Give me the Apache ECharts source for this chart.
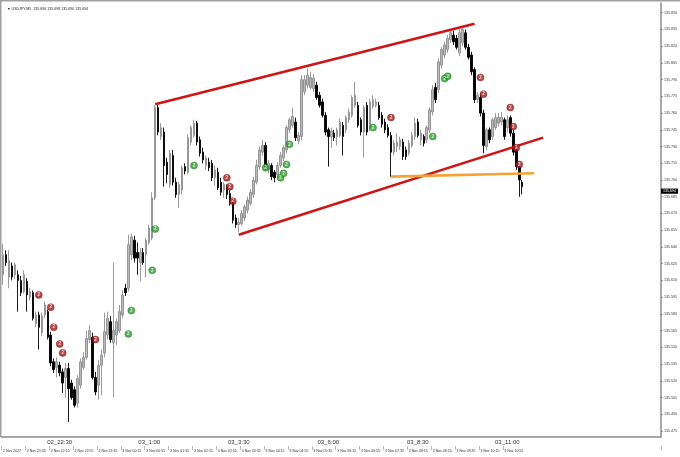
<!DOCTYPE html>
<html>
<head>
<meta charset="utf-8">
<script src="https://cdn.jsdelivr.net/npm/echarts@6/dist/echarts.min.js"></script>
<style>html,body{margin:0;padding:0;background:#fff}#c{width:680px;height:457px}</style>
</head>
<body>
<div id="c"></div>
<script>
// ---- data (USDJPY, M5) ----
const opens = [
135.615,135.633,135.613,135.623,135.615,135.615,135.610,135.600,135.609,135.595,
135.599,135.571,135.579,135.563,135.579,135.582,135.561,135.537,135.532,135.534,
135.528,135.523,135.531,135.518,135.512,135.500,135.516,135.532,135.541,135.557,
135.559,135.523,135.516,135.534,135.545,135.561,135.573,135.554,135.561,135.565,
135.579,135.603,135.603,135.633,135.646,135.635,135.626,135.635,135.633,135.644,
135.648,135.684,135.765,135.739,135.743,135.716,135.696,135.722,135.698,135.687,
135.691,135.712,135.707,135.734,135.740,135.751,135.736,135.725,135.713,135.716,
135.715,135.702,135.707,135.698,135.691,135.694,135.688,135.680,135.666,135.660,
135.661,135.666,135.673,135.679,135.687,135.698,135.712,135.725,135.731,135.709,
135.713,135.707,135.705,135.713,135.720,135.727,135.745,135.749,135.752,135.735,
135.739,135.779,135.785,135.783,135.782,135.785,135.776,135.770,135.758,135.745,
135.739,135.742,135.739,135.740,135.749,135.745,135.754,135.758,135.767,135.767,
135.754,135.743,135.767,135.747,135.766,135.767,135.767,135.758,135.752,135.747,
135.740,135.725,135.730,135.730,135.734,135.727,135.724,135.731,135.739,135.752,
135.736,135.739,135.736,135.745,135.761,135.783,135.781,135.803,135.812,135.817,
135.826,135.830,135.827,135.814,135.823,135.832,135.819,135.812,135.799,135.772,
135.774,135.760,135.730,135.745,135.739,135.747,135.751,135.752,135.754,135.747,
135.756,135.742,135.727,135.712,135.698];
const closes = [
135.633,135.626,135.628,135.613,135.624,135.610,135.599,135.615,135.597,135.600,
135.576,135.579,135.568,135.578,135.588,135.559,135.536,135.530,135.537,135.527,
135.518,135.531,135.513,135.505,135.498,135.522,135.537,135.541,135.558,135.565,
135.523,135.510,135.534,135.543,135.564,135.576,135.557,135.565,135.573,135.582,
135.597,135.599,135.642,135.649,135.630,135.630,135.635,135.626,135.646,135.657,
135.684,135.765,135.743,135.747,135.713,135.705,135.724,135.698,135.687,135.696,
135.711,135.708,135.738,135.747,135.751,135.734,135.724,135.718,135.720,135.711,
135.702,135.709,135.693,135.689,135.696,135.687,135.679,135.664,135.660,135.662,
135.670,135.676,135.682,135.689,135.700,135.713,135.727,135.731,135.712,135.715,
135.703,135.702,135.713,135.722,135.729,135.747,135.754,135.757,135.738,135.740,
135.790,135.790,135.794,135.792,135.791,135.774,135.767,135.758,135.743,135.739,
135.744,135.738,135.745,135.752,135.739,135.756,135.761,135.774,135.776,135.749,
135.743,135.765,135.743,135.770,135.772,135.770,135.756,135.750,135.745,135.740,
135.725,135.733,135.734,135.736,135.721,135.721,135.733,135.740,135.751,135.740,
135.742,135.733,135.747,135.763,135.781,135.772,135.806,135.817,135.821,135.827,
135.832,135.824,135.819,135.832,135.835,135.819,135.810,135.797,135.772,135.776,
135.760,135.731,135.745,135.736,135.754,135.756,135.756,135.756,135.739,135.754,
135.742,135.725,135.712,135.700,135.694];
const lows = [
135.606,135.623,135.603,135.610,135.611,135.582,135.596,135.598,135.582,135.592,
135.574,135.568,135.548,135.560,135.576,135.557,135.533,135.527,135.523,135.524,
135.509,135.505,135.483,135.503,135.496,135.496,135.513,135.530,135.539,135.554,
135.521,135.507,135.503,135.507,135.541,135.557,135.554,135.505,135.552,135.563,
135.576,135.596,135.600,135.628,135.626,135.615,135.609,135.624,135.613,135.642,
135.646,135.682,135.740,135.736,135.694,135.697,135.693,135.695,135.684,135.675,
135.687,135.705,135.705,135.731,135.738,135.731,135.721,135.715,135.709,135.708,
135.699,135.695,135.691,135.686,135.684,135.683,135.677,135.661,135.657,135.653,
135.659,135.663,135.670,135.677,135.684,135.696,135.709,135.722,135.709,135.706,
135.700,135.698,135.702,135.711,135.717,135.724,135.742,135.747,135.735,135.732,
135.736,135.776,135.782,135.781,135.779,135.772,135.765,135.756,135.740,135.712,
135.729,135.735,135.731,135.738,135.722,135.742,135.751,135.756,135.765,135.747,
135.740,135.720,135.740,135.744,135.764,135.765,135.754,135.747,135.742,135.738,
135.703,135.722,135.725,135.727,135.718,135.718,135.722,135.729,135.736,135.738,
135.731,135.730,135.733,135.742,135.758,135.769,135.778,135.800,135.809,135.814,
135.823,135.821,135.817,135.811,135.820,135.817,135.808,135.794,135.769,135.769,
135.757,135.724,135.727,135.733,135.736,135.745,135.748,135.749,135.736,135.743,
135.739,135.722,135.709,135.685,135.687];
const highs = [
135.643,135.637,135.637,135.626,135.626,135.619,135.614,135.619,135.612,135.603,
135.601,135.582,135.582,135.581,135.591,135.584,135.564,135.540,135.541,135.537,
135.531,135.536,135.536,135.521,135.515,135.525,135.540,135.546,135.565,135.570,
135.563,135.528,135.539,135.548,135.581,135.582,135.578,135.626,135.576,135.588,
135.601,135.607,135.651,135.652,135.650,135.644,135.639,135.639,135.648,135.660,
135.689,135.767,135.768,135.751,135.747,135.720,135.727,135.727,135.702,135.698,
135.713,135.715,135.741,135.749,135.754,135.753,135.739,135.729,135.722,135.720,
135.718,135.713,135.711,135.702,135.698,135.696,135.691,135.684,135.669,135.666,
135.673,135.678,135.685,135.692,135.703,135.718,135.730,135.736,135.734,135.718,
135.715,135.709,135.716,135.725,135.731,135.749,135.756,135.765,135.756,135.743,
135.794,135.794,135.800,135.797,135.795,135.788,135.779,135.773,135.761,135.747,
135.747,135.745,135.747,135.755,135.752,135.758,135.764,135.776,135.788,135.770,
135.756,135.767,135.770,135.773,135.776,135.773,135.770,135.761,135.755,135.750,
135.743,135.736,135.742,135.739,135.737,135.730,135.736,135.743,135.756,135.755,
135.745,135.741,135.749,135.765,135.785,135.787,135.809,135.819,135.824,135.830,
135.835,135.834,135.830,135.835,135.837,135.835,135.822,135.815,135.801,135.779,
135.777,135.763,135.747,135.747,135.756,135.760,135.760,135.761,135.756,135.758,
135.758,135.745,135.730,135.714,135.700];

// signal markers: [bar index, price]
const redSignals = [[12,135.597],[16,135.586],[17,135.568],[19,135.553],[20,135.545],[31,135.557],
  [75,135.702],[76,135.694],[77,135.681],[130,135.756],[160,135.792],[161,135.777],
  [170,135.765],[171,135.748],[172,135.729],[173,135.714]];
const greenSignals = [[42,135.562],[43,135.583],[50,135.619],[51,135.656],[64,135.713],[88,135.711],
  [93,135.702],[94,135.706],[95,135.714],[96,135.732],[124,135.747],[144,135.739],[148,135.791],[149,135.793]];

// drawn trend lines: [bar index, price]
const upperChannel = [[51,135.768],[158,135.840]];
const lowerChannel = [[79,135.651],[181,135.738]];
const orangeLevel  = [[130,135.703],[178,135.706]];

// axis text
const xTickLabels = ['02_22:30','03_1:00','03_3:30','03_6:00','03_8:30','03_11:00'];
const yTicks = [135.475,135.490,135.505,135.520,135.535,135.550,135.565,135.580,135.595,135.610,
  135.625,135.640,135.655,135.670,135.685,135.700,135.715,135.730,135.745,135.760,
  135.775,135.790,135.805,135.820,135.835,135.850];
const yMin = 135.4696, yMax = 135.8587;
const titleText = '\u25BC USDJPY,M5  135.696 135.698 135.690 135.694';

// ---- build ----
const slotCount = 221; // bars that fit the window (right side left empty like MT4)
const startMin = 20 * 60 + 55; // first bar: 2 Nov 20:55
const categories = [], tinyNames = [];
for (let k = 0; k < slotCount; k++) {
  const t = startMin + 5 * k;
  const day = 2 + Math.floor(t / 1440);
  const m = t % 1440, h = Math.floor(m / 60), mm = m % 60;
  categories.push(String(day).padStart(2, '0') + '_' + h + ':' + String(mm).padStart(2, '0'));
  tinyNames.push(day + ' Nov ' + String(h).padStart(2, '0') + ':' + String(mm).padStart(2, '0'));
}
tinyNames[0] = '2 Nov 2022';
const nBars = opens.length;
const candleData = opens.map((o, i) => [o, closes[i], lows[i], highs[i]]);
const lastClose = closes[nBars - 1];
const FONT = 'Liberation Sans, Arial, sans-serif';

const chart = echarts.init(document.getElementById('c'), null, {renderer: 'canvas', width: 680, height: 457});
const signalSeries = (data, fill, stroke) => ({
  type: 'scatter', data: data, symbol: 'circle', symbolSize: 7, z: 6, silent: true,
  itemStyle: {color: fill, borderColor: stroke, borderWidth: 0.5},
  label: {show: true, formatter: '2', position: 'inside', color: '#ffffff', fontSize: 4.5, fontWeight: 'bold', fontFamily: FONT}
});
const lineSeries = (data, color) => ({
  type: 'line', data: data, symbol: 'none', showSymbol: false, silent: true, z: 5,
  lineStyle: {color: color, width: 2.6}
});

chart.setOption({
  animation: false,
  backgroundColor: '#ffffff',
  title: {text: titleText, left: 2, top: 2, textStyle: {fontSize: 3.6, fontWeight: 'normal', color: '#222', fontFamily: FONT}},
  grid: {left: 0, right: 17, top: 3, bottom: 20, containLabel: false},
  xAxis: [{
    type: 'category', data: categories, boundaryGap: true,
    axisLine: {show: true, lineStyle: {color: '#8c8c8c', width: 1.5}},
    axisTick: {show: false}, splitLine: {show: false},
    axisLabel: {interval: (idx, val) => xTickLabels.indexOf(val) >= 0, fontSize: 6, color: '#333', margin: 2, fontFamily: FONT}
  }, {
    type: 'category', data: categories, boundaryGap: true, position: 'bottom', offset: 9,
    axisLine: {show: false},
    axisTick: {show: true, interval: (idx) => idx % 8 === 0 && idx < nBars, length: 4, lineStyle: {color: '#777', width: 0.5}},
    splitLine: {show: false},
    axisLabel: {interval: (idx) => idx % 8 === 0 && idx < nBars, formatter: (v, idx) => tinyNames[idx],
      fontSize: 3.5, color: '#333', margin: 3, align: 'left', fontFamily: FONT}
  }],
  yAxis: {
    type: 'value', position: 'right', min: yMin, max: yMax, scale: true,
    axisLine: {show: true, lineStyle: {color: '#8c8c8c', width: 1.5}},
    axisTick: {show: true, length: 2, customValues: yTicks, lineStyle: {color: '#555', width: 0.5}},
    axisLabel: {customValues: yTicks, formatter: v => v.toFixed(3), fontSize: 3.6, color: '#333', margin: 3, fontFamily: FONT},
    splitLine: {show: false}
  },
  graphic: [
    {type: 'line', shape: {x1: 0, y1: 0.75, x2: 680, y2: 0.75}, style: {stroke: '#a0a0a0', lineWidth: 1.5}, silent: true},
    {type: 'line', shape: {x1: 0.75, y1: 0, x2: 0.75, y2: 437}, style: {stroke: '#a0a0a0', lineWidth: 1.5}, silent: true}
  ],
  series: [
    {
      type: 'candlestick', data: candleData, barWidth: 2, z: 3,
      itemStyle: {color: '#b9b9b9', color0: '#000000', borderColor: '#8e8e8e', borderColor0: '#000000', borderWidth: 0.9},
      markLine: {
        silent: true, symbol: ['none', 'none'], animation: false,
        data: [{yAxis: lastClose}],
        lineStyle: {color: 'rgba(0,0,0,0)', width: 0},
        label: {show: true, position: 'end', distance: 0, formatter: lastClose.toFixed(3),
          backgroundColor: '#000', color: '#fff', fontSize: 3.6, padding: [0.6, 2, 0.6, 2], fontFamily: FONT}
      }
    },
    lineSeries(upperChannel, '#d01414'),
    lineSeries(lowerChannel, '#d01414'),
    lineSeries(orangeLevel, '#f4a233'),
    signalSeries(redSignals, '#a81c1c', '#6e0d0d'),
    signalSeries(greenSignals, '#2e9e2e', '#1a6a1a')
  ]
});
</script>
</body>
</html>
